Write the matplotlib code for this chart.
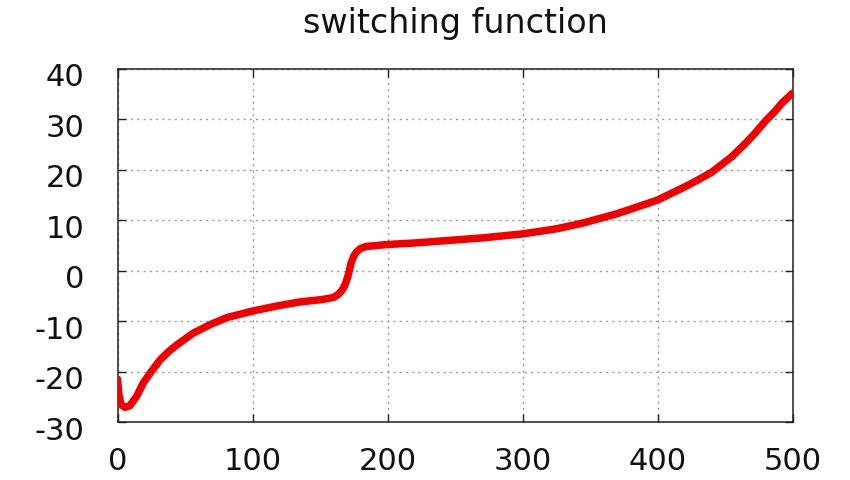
import matplotlib
matplotlib.use("Agg")
import matplotlib.pyplot as plt
import matplotlib.transforms as mtransforms

plt.rcParams["axes.unicode_minus"] = False
plt.rcParams["font.family"] = ["DejaVu Sans"]

title = "switching function"
x_vals = [0, 1, 2.5, 5.5, 9, 14, 19, 25, 31.5, 38, 44, 56, 68.5, 81, 100, 118, 135,
          152, 160, 164, 167, 169, 171, 173, 175, 177, 180, 184, 192, 200, 220, 245,
          270, 300, 325, 344, 370, 400, 420, 430, 440, 455, 465, 472, 480, 487, 492, 500]
y_vals = [-21.5, -24.5, -26.5, -27.1, -26.8, -25.0, -22.3, -20.0, -17.7, -16.0, -14.7,
          -12.4, -10.7, -9.3, -8.0, -7.0, -6.2, -5.7, -5.3, -4.6, -3.6, -2.5, -0.8, 1.5,
          2.9, 3.7, 4.4, 4.8, 5.0, 5.2, 5.5, 6.0, 6.5, 7.3, 8.3, 9.4, 11.3, 14.0, 16.6,
          18.0, 19.5, 22.6, 25.2, 27.2, 29.7, 31.6, 33.2, 35.2]
x_ticks = [0, 100, 200, 300, 400, 500]
y_ticks = [-30, -20, -10, 0, 10, 20, 30, 40]

fig = plt.figure(figsize=(8.5, 4.8), dpi=100)
ax = fig.add_axes([117.5 / 850, 1 - 422 / 480, 675 / 850, 353 / 480])
ax.plot(x_vals, y_vals, color="#f00000", linewidth=5.4, solid_capstyle="round",
        solid_joinstyle="round", zorder=3)
ax.set_xlim(0, 500)
ax.set_ylim(-30, 40)
ax.set_xticks(x_ticks)
ax.set_yticks(y_ticks)
ax.tick_params(direction="in", length=6, width=1, top=True, right=True,
               labelsize=22, colors="#202020", labelcolor="#111111")
ax.tick_params(axis="x", pad=18)
ax.tick_params(axis="y", pad=24)
ax.grid(True, linestyle=(0, (1.5, 3)), color="#9a9a9a", linewidth=1)
for s in ax.spines.values():
    s.set_linewidth(1.1)
    s.set_color("#202020")

off = mtransforms.ScaledTranslation(0, -6 / 100, fig.dpi_scale_trans)
for lab in ax.get_yticklabels():
    lab.set_transform(lab.get_transform() + off)

fig.text(455 / 850, 1 - 33 / 480, title, fontsize=24, ha="center", va="baseline",
         color="#111111")
fig.savefig("out.png", dpi=100)
